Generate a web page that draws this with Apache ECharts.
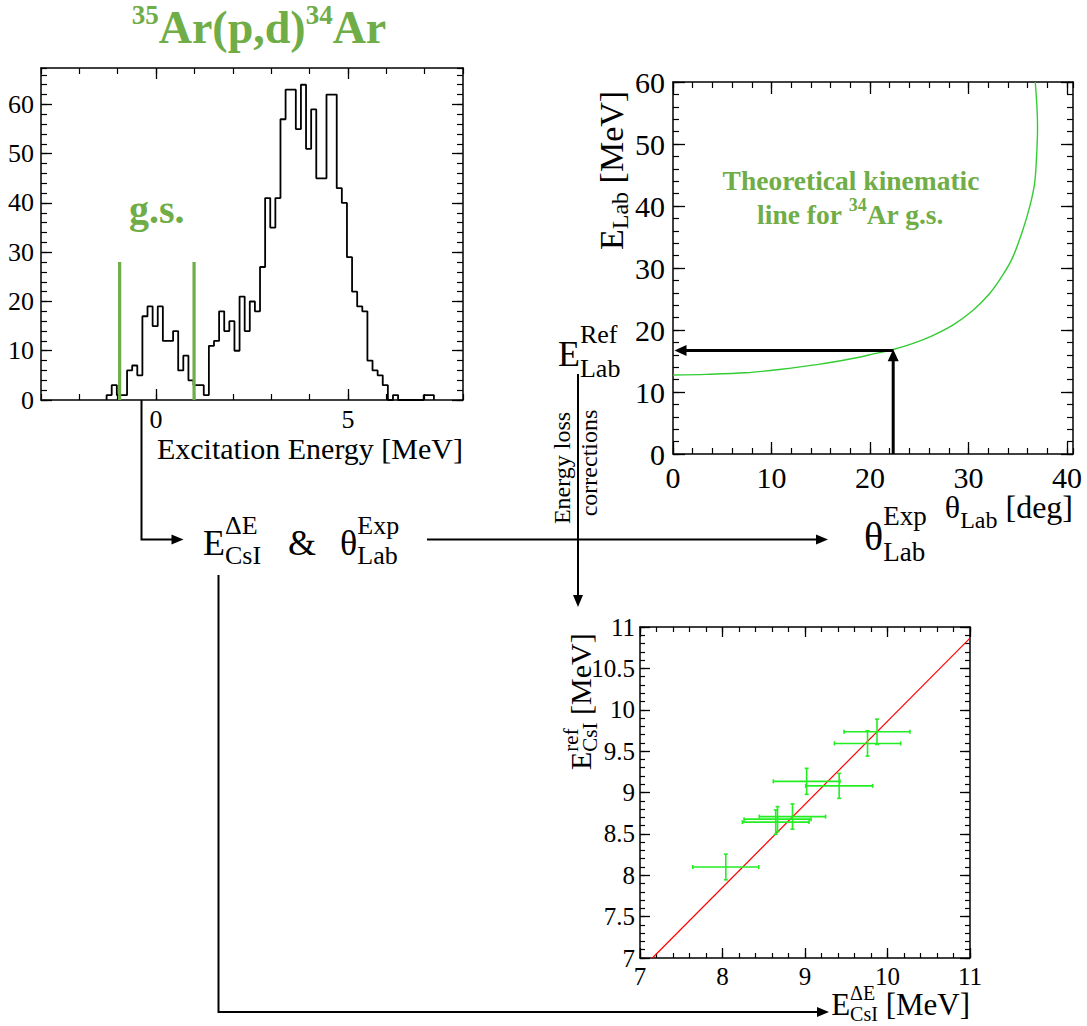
<!DOCTYPE html>
<html><head><meta charset="utf-8">
<script src="https://cdn.jsdelivr.net/npm/echarts@6/dist/echarts.min.js"></script>
<style>html,body{margin:0;padding:0;background:#fff}#c{width:1087px;height:1026px}</style>
</head><body><div id="c"></div>
<script>
// ---------------- DATA ----------------
// Excitation-energy histogram of 35Ar(p,d)34Ar
const exBinStart = -1.29;     // MeV, lower edge of first listed bin
const exBinWidth = 0.1333;    // MeV
const exCounts = [1,3,1,1,6,7,5,17,19,15, 19,12,12,14,6,9,4,3,3,1,
                  11,12,18,14,16,10,21,14,20,18, 27,41,35,41,57,63,63,55,64,51,
                  59,45,45,62,62,43,40,29,22,19, 18,8,6,5,3,0,1,0,0,0, 0,0,1,1];
const gsCutX = [-0.95, 0.99];
const gsCutTop = [28, 28];
const histXTicks = [0, 5];
const histYTicks = [0, 10, 20, 30, 40, 50, 60];

// Kinematic line (theta_lab [deg], E_lab [MeV])
const kinTheta = [0, 3.33, 7.39, 10.8, 14.8, 18.2, 20.25, 22.35, 24.3, 26.3, 28.4, 30.4, 32.1, 33.45, 34.5, 35.5, 36.2, 36.7, 36.9, 37.0, 36.94, 36.77];
const kinE     = [12.73, 12.84, 13.1, 13.64, 14.45, 15.4, 16.1, 16.86, 17.8, 19.07, 20.8, 23.1, 25.8, 28.8, 31.8, 36.1, 39.85, 43.6, 47.9, 52.7, 56.0, 60.0];
const refTheta = [22.35];
const refE = [16.7];
const kinXTicks = [0, 10, 20, 30, 40];
const kinYTicks = [0, 10, 20, 30, 40, 50, 60];

// Calibration points
const calX    = [8.04, 8.645, 8.667, 8.848, 9.02, 9.414, 9.758, 9.873];
const calY    = [8.10, 8.642, 8.678, 8.709, 9.135, 9.08, 9.593, 9.734];
const calXErr = [0.40, 0.404, 0.406, 0.402, 0.404, 0.406, 0.402, 0.40];
const calYErr = [0.155, 0.147, 0.151, 0.153, 0.157, 0.151, 0.153, 0.153];
const fitX = [7.15, 11.0];
const fitY = [7.0, 10.865];
const calXTicks = [7, 8, 9, 10, 11];
const calYTicks = [7, 7.5, 8, 8.5, 9, 9.5, 10, 10.5, 11];

// ---------------- HELPERS ----------------
const FF = 'Liberation Serif';
const GREEN_TXT = '#70AD47';
const mctx = document.createElement('canvas').getContext('2d');
function measure(t, fw, size){ mctx.font = fw + ' ' + size + "px 'Liberation Serif', serif"; return mctx.measureText(t).width; }
function txt(x, y, t, size, align, extra){
  return {type:'text', x:x, y:y, silent:true,
    style:Object.assign({text:t, fontSize:size, fontFamily:FF, fontWeight:'normal', fill:'#000',
      align:align, verticalAlign:'middle', textAlign:align, textVerticalAlign:'middle'}, extra || {})};
}
function segsToEls(segs, color){
  let x = 0, prevStart = 0; const els = [];
  for (const s of segs){
    const fw = s.b ? 'bold' : 'normal';
    const w = measure(s.t, fw, s.size);
    if (!s.stack) x += (s.gap || 0);
    const sx = s.stack ? prevStart : x;
    els.push(txt(sx, s.dy || 0, s.t, s.size, 'left', {fontWeight:fw, fill:color}));
    if (s.stack) x = Math.max(x, sx + w); else { prevStart = sx; x = sx + w; }
  }
  return {els, width:x};
}
function label(x, y, segs, opt){
  opt = opt || {};
  const r = segsToEls(segs, opt.color || '#000');
  const off = opt.anchor === 'center' ? -r.width/2 : opt.anchor === 'right' ? -r.width : 0;
  r.els.forEach(e => { e.x += off; });
  return {type:'group', x:x, y:y, rotation:opt.rot || 0, children:r.els};
}
function arrow(points, lw, head, hw){
  lw = lw || 2; head = head || 12; hw = hw || 5;
  const n = points.length; const [x2,y2] = points[n-1], [x1,y1] = points[n-2];
  const L = Math.hypot(x2-x1, y2-y1); const ux = (x2-x1)/L, uy = (y2-y1)/L;
  const bx = x2-ux*head, by = y2-uy*head;
  const pts = points.slice(0, n-1).concat([[bx+ux*1, by+uy*1]]);
  return [
    {type:'polyline', shape:{points:pts}, style:{stroke:'#000', lineWidth:lw, fill:'none'}, silent:true},
    {type:'polygon', shape:{points:[[x2,y2],[bx-uy*hw, by+ux*hw],[bx+uy*hw, by-ux*hw]]}, style:{fill:'#000'}, silent:true}
  ];
}
function axisSet(kind, grid, o){
  const pos = kind === 'x' ? ['bottom','top'] : ['left','right'];
  const base = () => ({type:'value', gridIndex:grid, min:o.min, max:o.max, splitLine:{show:false},
      axisLine:{show:true, onZero:false, lineStyle:{color:'#000', width:1.5}}});
  const major = p => Object.assign(base(), {position:p,
      axisTick:{show:true, inside:true, length:o.majorLen, customValues:o.ticks, lineStyle:{color:'#000', width:1.3}},
      axisLabel:{show:false}});
  const minor = p => Object.assign(base(), {position:p, interval:o.minor,
      axisLine:{show:false, onZero:false},
      axisTick:{show:true, inside:true, length:o.minorLen, lineStyle:{color:'#000', width:1.2}},
      axisLabel:{show:false}});
  return [major(pos[0]), minor(pos[0]), major(pos[1]), minor(pos[1])];
}

// ---------------- BUILD ----------------
const histPts = [[exBinStart, 0]];
exCounts.forEach((c, i) => { const x0 = exBinStart + i*exBinWidth; histPts.push([x0, c], [x0 + exBinWidth, c]); });
histPts.push([exBinStart + exCounts.length*exBinWidth, 0]);

const AX = {
  hist:{x:{min:-3, max:8, ticks:histXTicks, minor:1, majorLen:11, minorLen:6},
        y:{min:0, max:67.4, ticks:histYTicks, minor:2, majorLen:11, minorLen:6}, idx:0, size:26, mx:6, my:7},
  kin: {x:{min:0, max:40.6, ticks:kinXTicks, minor:2, majorLen:12, minorLen:6},
        y:{min:0, max:60, ticks:kinYTicks, minor:2, majorLen:12, minorLen:6}, idx:4, size:30, mx:8, my:8},
  cal: {x:{min:7, max:11, ticks:calXTicks, minor:0.2, majorLen:10, minorLen:5},
        y:{min:7, max:11, ticks:calYTicks, minor:0.1, majorLen:10, minorLen:5}, idx:8, size:25, mx:6, my:5}
};
const xAxes = [].concat(axisSet('x', 0, AX.hist.x), axisSet('x', 1, AX.kin.x), axisSet('x', 2, AX.cal.x));
const yAxes = [].concat(axisSet('y', 0, AX.hist.y), axisSet('y', 1, AX.kin.y), axisSet('y', 2, AX.cal.y));

const series = [
  {type:'line', xAxisIndex:0, yAxisIndex:0, data:histPts, symbol:'none', lineStyle:{color:'#000', width:1.8}, z:3},
  {type:'line', xAxisIndex:0, yAxisIndex:0, data:[[gsCutX[0],0],[gsCutX[0],gsCutTop[0]]], symbol:'none', lineStyle:{color:GREEN_TXT, width:3.2}, z:4},
  {type:'line', xAxisIndex:0, yAxisIndex:0, data:[[gsCutX[1],0],[gsCutX[1],gsCutTop[1]]], symbol:'none', lineStyle:{color:GREEN_TXT, width:3.2}, z:4},
  {type:'line', xAxisIndex:4, yAxisIndex:4, data:kinTheta.map((t,i)=>[t, kinE[i]]), symbol:'none', smooth:0.3,
   lineStyle:{color:'#33cc33', width:1.4}, z:3},
  {type:'custom', xAxisIndex:4, yAxisIndex:4, z:5,
   data:[[refTheta[0], 0, refTheta[0], 16.9], [refTheta[0], refE[0], 0.15, refE[0]]],
   encode:{x:[0,2], y:[1,3]},
   renderItem:function(params, api){
     const p1 = api.coord([api.value(0), api.value(1)]);
     const p2 = api.coord([api.value(2), api.value(3)]);
     const L = Math.hypot(p2[0]-p1[0], p2[1]-p1[1]); const ux=(p2[0]-p1[0])/L, uy=(p2[1]-p1[1])/L;
     const head = 12, hw = 5.5; const bx = p2[0]-ux*head, by = p2[1]-uy*head;
     return {type:'group', children:[
       {type:'line', shape:{x1:p1[0], y1:p1[1], x2:bx+ux, y2:by+uy}, style:{stroke:'#000', lineWidth:3}},
       {type:'polygon', shape:{points:[[p2[0],p2[1]],[bx-uy*hw, by+ux*hw],[bx+uy*hw, by-ux*hw]]}, style:{fill:'#000'}}
     ]};
   }},
  {type:'line', xAxisIndex:8, yAxisIndex:8, data:fitX.map((x,i)=>[x, fitY[i]]), symbol:'none', lineStyle:{color:'#ff0000', width:1.2}, z:3},
  {type:'custom', xAxisIndex:8, yAxisIndex:8, z:4,
   data:calX.map((x,i)=>[x, calY[i], calXErr[i], calYErr[i]]),
   encode:{x:0, y:1},
   renderItem:function(params, api){
     const x=api.value(0), y=api.value(1), ex=api.value(2), ey=api.value(3);
     const l=api.coord([x-ex,y]), r=api.coord([x+ex,y]), b=api.coord([x,y-ey]), t=api.coord([x,y+ey]);
     const st={stroke:'#22ee22', lineWidth:1.6}; const c=2;
     return {type:'group', children:[
       {type:'line', shape:{x1:l[0],y1:l[1],x2:r[0],y2:r[1]}, style:st},
       {type:'line', shape:{x1:b[0],y1:b[1],x2:t[0],y2:t[1]}, style:st},
       {type:'line', shape:{x1:l[0],y1:l[1]-c,x2:l[0],y2:l[1]+c}, style:st},
       {type:'line', shape:{x1:r[0],y1:r[1]-c,x2:r[0],y2:r[1]+c}, style:st},
       {type:'line', shape:{x1:b[0]-c,y1:b[1],x2:b[0]+c,y2:b[1]}, style:st},
       {type:'line', shape:{x1:t[0]-c,y1:t[1],x2:t[0]+c,y2:t[1]}, style:st}
     ]};
   }}
];

const chart = echarts.init(document.getElementById('c'), null, {renderer:'svg'});
chart.setOption({
  animation:false,
  backgroundColor:'#fff',
  grid:[
    {left:41, top:68, width:422, height:332},
    {left:673, top:82, width:400, height:372},
    {left:640, top:627, width:330, height:331}
  ],
  xAxis:xAxes,
  yAxis:yAxes,
  series:series
});

// tick labels, placed through the axes' own scales
const tickLabels = [];
Object.keys(AX).forEach(k => {
  const a = AX[k];
  const yBottom = chart.convertToPixel({yAxisIndex:a.idx}, a.y.min);
  const xLeft = chart.convertToPixel({xAxisIndex:a.idx}, a.x.min);
  a.x.ticks.forEach(v => {
    const px = chart.convertToPixel({xAxisIndex:a.idx}, v);
    tickLabels.push(txt(px, yBottom + a.mx + a.size/2, String(v), a.size, 'center'));
  });
  a.y.ticks.forEach(v => {
    const py = chart.convertToPixel({yAxisIndex:a.idx}, v);
    tickLabels.push(txt(xLeft - a.my, py, String(v), a.size, 'right'));
  });
});

const R90 = Math.PI/2;
const graphics = [].concat(
  tickLabels,
  [
    label(259, 27, [{t:'35',size:27,b:1,dy:-12},{t:'Ar(p,d)',size:46,b:1},{t:'34',size:27,b:1,dy:-12},{t:'Ar',size:46,b:1}], {anchor:'center', color:GREEN_TXT}),
    label(129, 209, [{t:'g.s.',size:40,b:1}], {color:GREEN_TXT}),
    label(463, 448, [{t:'Excitation Energy [MeV]',size:30}], {anchor:'right'}),
    label(203, 542.5, [{t:'E',size:36},{t:'CsI',size:26,dy:13},{t:'\u0394E',size:26,dy:-17,stack:1}]),
    label(288, 542.5, [{t:'&',size:36}]),
    label(340, 542.5, [{t:'\u03b8',size:36},{t:'Lab',size:26,dy:13},{t:'Exp',size:26,dy:-17,stack:1}]),
    label(864, 536, [{t:'\u03b8',size:40},{t:'Lab',size:27,dy:16},{t:'Exp',size:27,dy:-20,stack:1}]),
    label(1073, 507, [{t:'\u03b8',size:32},{t:'Lab',size:24,dy:13},{t:'[deg]',size:32,gap:8}], {anchor:'right'}),
    label(558, 354, [{t:'E',size:36},{t:'Lab',size:26,dy:14},{t:'Ref',size:26,dy:-20,stack:1}]),
    label(611, 250, [{t:'E',size:34},{t:'Lab',size:24,dy:9},{t:'[MeV]',size:34,gap:8.5}], {rot:R90}),
    label(580, 770, [{t:'E',size:30},{t:'CsI',size:21,dy:10},{t:'ref',size:21,dy:-9,stack:1},{t:'[MeV]',size:30,gap:7.5}], {rot:R90}),
    label(970, 1004, [{t:'E',size:31},{t:'CsI',size:20,dy:10},{t:'\u0394E',size:20,dy:-11,stack:1},{t:'[MeV]',size:31,gap:7.75}], {anchor:'right'}),
    label(562, 468, [{t:'Energy loss',size:24}], {anchor:'center', rot:R90}),
    label(589, 463, [{t:'corrections',size:24}], {anchor:'center', rot:R90}),
    label(851, 180, [{t:'Theoretical kinematic',size:27.5,b:1}], {anchor:'center', color:GREEN_TXT}),
    label(850.5, 214, [{t:'line for ',size:27.5,b:1},{t:'34',size:18,b:1,dy:-9},{t:'Ar g.s.',size:27.5,b:1}], {anchor:'center', color:GREEN_TXT})
  ],
  arrow([[141.5,400],[141.5,539.5],[183.5,539.5]]),
  arrow([[427,539.5],[828,539.5]]),
  arrow([[578,374],[578,607]]),
  arrow([[218.5,575],[218.5,1012],[829,1012]])
);
chart.setOption({graphic:{elements:graphics}});
</script>
</body></html>
